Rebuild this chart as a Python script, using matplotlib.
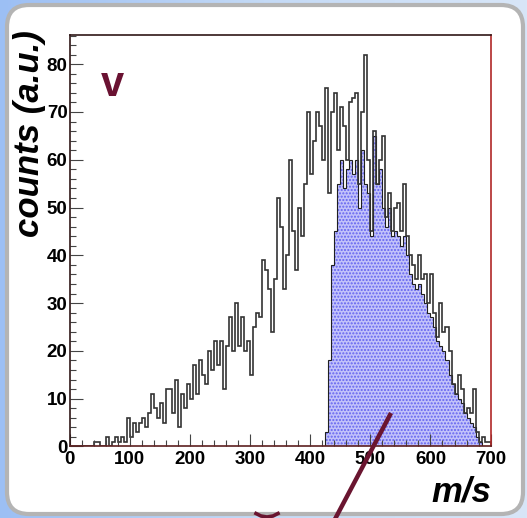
import numpy as np
import matplotlib
matplotlib.use("Agg")
import matplotlib.pyplot as plt
from matplotlib.patches import FancyBboxPatch

# speed distribution, 5 m/s bins from 0 to 700
all_counts = [0, 0, 0, 0, 0, 0, 0, 0, 1, 1,
              0, 0, 2, 0, 1, 2, 1, 2, 1, 6,
              2, 5, 3, 5, 6, 4, 7, 11, 8, 6,
              9, 5, 12, 12, 7, 14, 4, 11, 8, 13,
              10, 17, 11, 18, 15, 13, 20, 16, 22, 17,
              22, 12, 21, 27, 20, 30, 21, 27, 20, 22,
              15, 25, 28, 27, 39, 37, 33, 24, 35, 52,
              46, 33, 40, 60, 45, 37, 50, 44, 55, 70,
              57, 64, 70, 67, 60, 75, 53, 70, 74, 62,
              71, 67, 60, 72, 73, 74, 55, 70, 82, 60,
              45, 66, 55, 60, 65, 48, 53, 45, 50, 51,
              45, 55, 44, 40, 38, 35, 40, 35, 36, 30,
              36, 28, 23, 30, 24, 25, 20, 13, 11, 15,
              12, 7, 8, 7, 12, 3, 1, 2, 1, 1]
all_edges = np.arange(0, 701, 5)

# selected part (blue), 5 m/s bins from 425 to 690
sel_counts = [3, 18, 38, 45, 55, 60, 54, 58, 60, 57,
              60, 50, 62, 55, 53, 44, 65, 55, 58, 50,
              46, 50, 44, 45, 44, 42, 44, 40, 36, 34,
              33, 34, 32, 30, 28, 27, 25, 22, 21, 20,
              18, 15, 13, 11, 10, 9, 7, 6, 5, 4,
              2, 1, 0]
sel_edges = np.arange(425, 691, 5)

xticks = [0, 100, 200, 300, 400, 500, 600, 700]
yticks = [0, 10, 20, 30, 40, 50, 60, 70, 80]

W, H = 527, 518
fig = plt.figure(figsize=(W / 100, H / 100), dpi=100)

# slide background + rounded white box
bg = fig.add_axes([0, 0, 1, 1], zorder=0)
grad = np.linspace(0, 1, 256)[None, :]
cmap = matplotlib.colors.LinearSegmentedColormap.from_list(
    "bgblue", ["#9cbff4", "#c4daf6", "#d8e6f8"])
bg.imshow(grad, aspect="auto", cmap=cmap, extent=[0, W, H, 0])
bg.add_patch(FancyBboxPatch((7, 5), 516, 509, boxstyle="round,pad=0,rounding_size=22",
                            facecolor="white", edgecolor="#b4b4b4", linewidth=3))
bg.set_xlim(0, W)
bg.set_ylim(H, 0)
bg.axis("off")

ax = fig.add_axes([69.6 / W, 1 - 446.4 / H, 421 / W, 411.8 / H], zorder=1)
ax.set_facecolor("white")

ax.stairs(sel_counts, sel_edges, fill=True, facecolor="#c2c2fa", edgecolor="#6262f0",
          hatch=".....", linewidth=0)
ax.stairs(sel_counts, sel_edges, color="#202020", linewidth=0.8)
ax.stairs(all_counts, all_edges, color="#333333", linewidth=1.2)

ax.set_xlim(0, 700)
ax.set_ylim(0, 86.2)
ax.set_xticks(xticks)
ax.set_yticks(yticks)
ax.set_xticks(np.arange(0, 701, 20), minor=True)
ax.set_yticks(np.arange(0, 87, 2), minor=True)
ax.tick_params(which="both", direction="in", color="#444444", width=0.8,
               top=False, right=False)
ax.tick_params(axis="y", which="major", length=9, pad=1.5)
ax.tick_params(axis="y", which="minor", length=4.3)
ax.tick_params(axis="x", which="major", length=8.6, pad=3)
ax.tick_params(axis="x", which="minor", length=4.5)
for lab in ax.get_xticklabels() + ax.get_yticklabels():
    lab.set_fontfamily("Liberation Sans")
    lab.set_fontweight("bold")
    lab.set_fontsize(13.5)

ax.spines["left"].set_color("#301818")
ax.spines["top"].set_color("#301818")
ax.spines["right"].set_color("#b02828")
ax.spines["bottom"].set_color("#5a2020")
for s in ax.spines.values():
    s.set_linewidth(1.2)
ax.axhline(0, color="#d04040", linewidth=0.8, zorder=5)

ax.text(0.1007, 0.851, "v", transform=ax.transAxes, color="#6a1232",
        fontsize=30, fontweight="bold", fontfamily="Liberation Sans",
        ha="center", va="baseline")

fig.text(30 / W, 1 - 133.5 / H, "counts (a.u.)", rotation=90, ha="center", va="center",
         fontsize=25, fontweight="bold", fontstyle="italic", fontfamily="Liberation Sans")
fig.text(491 / W, 1 - 501 / H, "m/s", ha="right", va="baseline",
         fontsize=25, fontweight="bold", fontstyle="italic", fontfamily="Liberation Sans")

# overlay marks from the slide
ov = fig.add_axes([0, 0, 1, 1], zorder=3)
ov.set_xlim(0, W)
ov.set_ylim(H, 0)
ov.axis("off")
ov.patch.set_alpha(0)
ov.plot([391, 334], [413, 521], color="#6a1530", linewidth=3.2, solid_capstyle="butt")
ov.plot([256, 261, 267, 273, 278], [513.5, 516, 517, 516, 513.5], color="#6a1530",
        linewidth=2.6)

fig.savefig("out.png", dpi=100)
